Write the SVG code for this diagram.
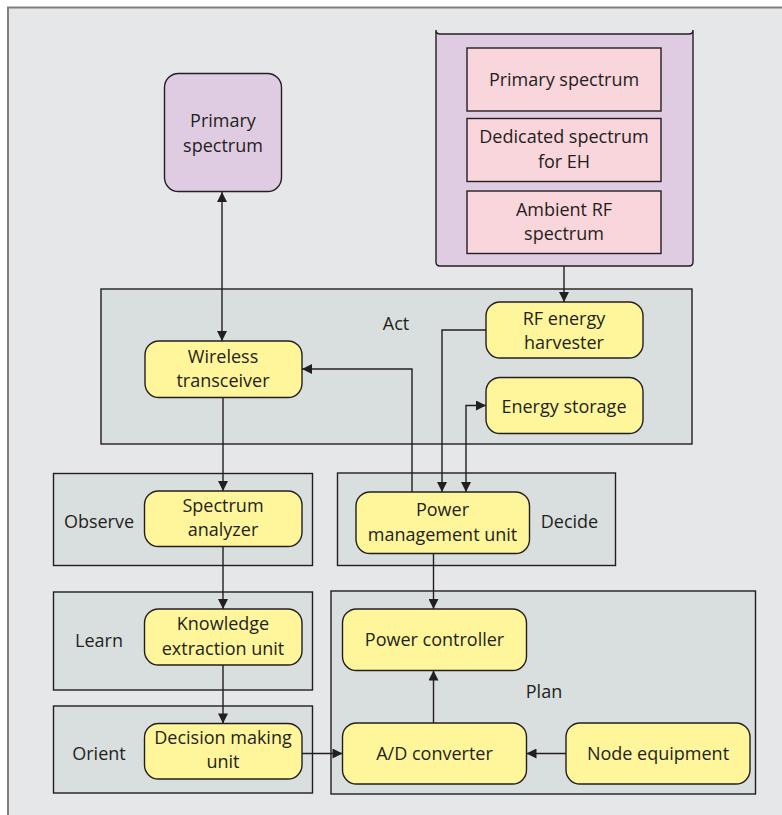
<svg xmlns="http://www.w3.org/2000/svg" width="782" height="815" viewBox="0 0 782 815">
<style>
  text { font-family: "Open Sans", "Noto Sans", "DejaVu Sans", sans-serif; font-size: 18px; fill: #231f20; text-anchor: middle; }
  .grp { fill: #d9dfde; stroke: #231f20; stroke-width: 1.4; }
  .node { fill: #fff59a; stroke: #231f20; stroke-width: 1.4; }
  .pink { fill: #f9d5dc; stroke: #231f20; stroke-width: 1.4; }
  .lav { fill: #dfcce3; stroke: #231f20; stroke-width: 1.4; }
  .conn { fill: none; stroke: #231f20; stroke-width: 1.4; }
</style>
<defs>
  <marker id="arr" viewBox="0 0 10 10" refX="10" refY="5" markerWidth="11" markerHeight="10" markerUnits="userSpaceOnUse" orient="auto-start-reverse">
    <path d="M0,0 L10,5 L0,10 Z" fill="#231f20"/>
  </marker>
</defs>
<rect x="0" y="0" width="782" height="815" fill="#ffffff"/>
<rect x="8" y="7.5" width="800" height="830" fill="#e6e7e8" stroke="#808080" stroke-width="2"/>

<g id="group-act">
  <rect class="grp" x="101" y="289" width="591" height="155"/>
  <text x="396" y="330">Act</text>
</g>
<g id="group-observe">
  <rect class="grp" x="53.5" y="473.5" width="259" height="92"/>
  <text x="99" y="528">Observe</text>
</g>
<g id="group-learn">
  <rect class="grp" x="53.5" y="592" width="259" height="98"/>
  <text x="99" y="646.5">Learn</text>
</g>
<g id="group-orient">
  <rect class="grp" x="53.5" y="706" width="259" height="87"/>
  <text x="99" y="759.5">Orient</text>
</g>
<g id="group-decide">
  <rect class="grp" x="337.5" y="473" width="278" height="92.5"/>
  <text x="569.5" y="527.5">Decide</text>
</g>
<g id="group-plan">
  <rect class="grp" x="331" y="591" width="424.5" height="203"/>
  <text x="544" y="697.5">Plan</text>
</g>

<g id="eh-spectrum">
  <path class="lav" d="M436,30 L436,262 Q436,266 440,266 L689,266 Q693,266 693,262 L693,30 Q693,34 689,34 L440,34 Q436,34 436,30 Z"/>
</g>
<g id="primary-spectrum-2">
  <rect class="pink" x="467" y="48" width="194" height="63"/>
  <text x="564" y="85.5">Primary spectrum</text>
</g>
<g id="dedicated-spectrum">
  <rect class="pink" x="467" y="118.5" width="194" height="63"/>
  <text x="564" y="143.25">Dedicated spectrum</text>
  <text x="564" y="167.75">for EH</text>
</g>
<g id="ambient-rf">
  <rect class="pink" x="467" y="191" width="194" height="62.5"/>
  <text x="564" y="215.75">Ambient RF</text>
  <text x="564" y="240.25">spectrum</text>
</g>

<g id="primary-spectrum">
  <rect class="lav" x="164.5" y="73.5" width="117" height="118" rx="14"/>
  <text x="223" y="127.25">Primary</text>
  <text x="223" y="151.75">spectrum</text>
</g>

<g id="wireless-transceiver">
  <rect class="node" x="145" y="341" width="157" height="56.5" rx="14"/>
  <text x="223" y="362.75">Wireless</text>
  <text x="223" y="387.25">transceiver</text>
</g>
<g id="rf-energy-harvester">
  <rect class="node" x="486" y="302" width="157" height="56" rx="14"/>
  <text x="564" y="324.5">RF energy</text>
  <text x="564" y="349">harvester</text>
</g>
<g id="energy-storage">
  <rect class="node" x="486" y="377.5" width="157" height="56" rx="14"/>
  <text x="564" y="412.5">Energy storage</text>
</g>
<g id="spectrum-analyzer">
  <rect class="node" x="144.5" y="491" width="157.5" height="55.5" rx="14"/>
  <text x="223" y="511.75">Spectrum</text>
  <text x="223" y="536.25">analyzer</text>
</g>
<g id="knowledge-extraction">
  <rect class="node" x="144.5" y="609" width="157.5" height="56" rx="14"/>
  <text x="223" y="630.25">Knowledge</text>
  <text x="223" y="654.75">extraction unit</text>
</g>
<g id="decision-making">
  <rect class="node" x="144.5" y="723.5" width="157.5" height="55.5" rx="14"/>
  <text x="223" y="743.75">Decision making</text>
  <text x="223" y="768.25">unit</text>
</g>
<g id="power-management">
  <rect class="node" x="356" y="492" width="173.5" height="61.5" rx="14"/>
  <text x="442.5" y="516">Power</text>
  <text x="442.5" y="540.5">management unit</text>
</g>
<g id="power-controller">
  <rect class="node" x="342.5" y="609" width="184" height="61.5" rx="14"/>
  <text x="434.5" y="646">Power controller</text>
</g>
<g id="ad-converter">
  <rect class="node" x="342.5" y="723" width="184" height="61" rx="14"/>
  <text x="434.5" y="760">A/D converter</text>
</g>
<g id="node-equipment">
  <rect class="node" x="566" y="723" width="184" height="61" rx="14"/>
  <text x="658" y="760">Node equipment</text>
</g>

<g id="connectors">
  <path class="conn" d="M222,192 L222,341" marker-start="url(#arr)" marker-end="url(#arr)"/>
  <path class="conn" d="M564,266 L564,302" marker-end="url(#arr)"/>
  <path class="conn" d="M486,330 L442,330 L442,492" marker-end="url(#arr)"/>
  <path class="conn" d="M486,405.5 L466,405.5 L466,492" marker-start="url(#arr)" marker-end="url(#arr)"/>
  <path class="conn" d="M412,492 L412,369 L302,369" marker-end="url(#arr)"/>
  <path class="conn" d="M223,397.5 L223,491" marker-end="url(#arr)"/>
  <path class="conn" d="M223,546.5 L223,609" marker-end="url(#arr)"/>
  <path class="conn" d="M223,665 L223,723.5" marker-end="url(#arr)"/>
  <path class="conn" d="M302,753.5 L342.5,753.5" marker-end="url(#arr)"/>
  <path class="conn" d="M433.5,553.5 L433.5,609" marker-end="url(#arr)"/>
  <path class="conn" d="M433.5,723 L433.5,670.5" marker-end="url(#arr)"/>
  <path class="conn" d="M566,753.5 L526.5,753.5" marker-end="url(#arr)"/>
</g>
</svg>
